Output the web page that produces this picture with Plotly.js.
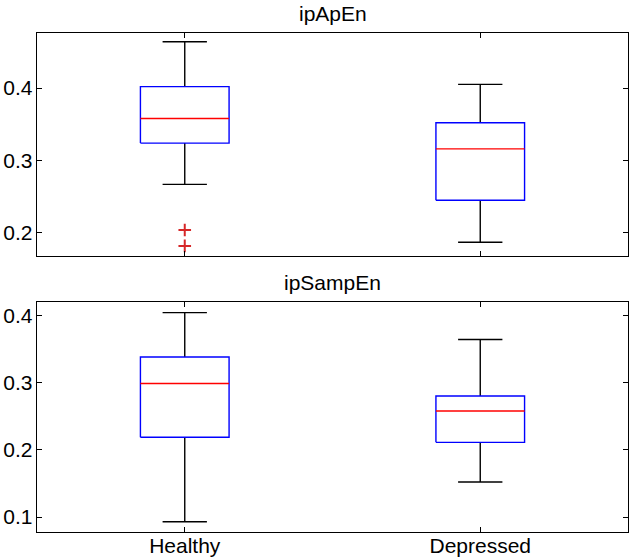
<!DOCTYPE html>
<html>
<head>
<meta charset="utf-8">
<script src="https://cdn.plot.ly/plotly-3.0.1.min.js"></script>
<style>html,body{margin:0;padding:0;background:#fff;}#chart{width:630px;height:559px;}</style>
</head>
<body>
<div id="chart"></div>
<script>
// ---- data ----
const groups = ['Healthy', 'Depressed'];
const panelTitles = ['ipApEn', 'ipSampEn'];

// ipApEn
const apenLower  = [0.267, 0.187];
const apenQ1     = [0.324, 0.245];
const apenMedian = [0.358, 0.316];
const apenQ3     = [0.402, 0.352];
const apenUpper  = [0.464, 0.405];
const apenOutliers = [[0.204, 0.182], []];

// ipSampEn
const sampLower  = [0.093, 0.152];
const sampQ1     = [0.2185, 0.211];
const sampMedian = [0.2985, 0.2577];
const sampQ3     = [0.338, 0.280];
const sampUpper  = [0.404, 0.364];
const sampOutliers = [[], []];

const apenTicks = [0.2, 0.3, 0.4];
const sampTicks = [0.1, 0.2, 0.3, 0.4];

// ---- style ----
const boxHalf = 0.15, capHalf = 0.075;
const FONT = {family: 'Liberation Sans, Arial, Helvetica, sans-serif', size: 21, color: '#000'};

function boxTraces(lower, q1, med, q3, upper, outliers, xa, ya) {
  const pos = groups.map((g, i) => i + 1);
  const bx = [], by = [], mx = [], my = [], wx = [], wy = [], ox = [], oy = [];
  pos.forEach((p, i) => {
    bx.push(p - boxHalf, p + boxHalf, p + boxHalf, p - boxHalf, p - boxHalf, null);
    by.push(q1[i], q1[i], q3[i], q3[i], q1[i], null);
    mx.push(p - boxHalf, p + boxHalf, null);
    my.push(med[i], med[i], null);
    wx.push(p, p, null, p, p, null, p - capHalf, p + capHalf, null, p - capHalf, p + capHalf, null);
    wy.push(q3[i], upper[i], null, q1[i], lower[i], null, upper[i], upper[i], null, lower[i], lower[i], null);
    outliers[i].forEach(v => { ox.push(p); oy.push(v); });
  });
  const common = {type: 'scatter', xaxis: xa, yaxis: ya, hoverinfo: 'skip', showlegend: false};
  return [
    Object.assign({}, common, {mode: 'lines', x: wx, y: wy, line: {color: '#000', width: 1.4}}),
    Object.assign({}, common, {mode: 'lines', x: bx, y: by, line: {color: '#0000ff', width: 1.4}}),
    Object.assign({}, common, {mode: 'lines', x: mx, y: my, line: {color: '#ff0000', width: 1.4}}),
    Object.assign({}, common, {mode: 'markers', x: ox, y: oy,
      marker: {symbol: 'cross-thin-open', size: 9, line: {color: '#ff0000', width: 2}}})
  ];
}

const data = [].concat(
  boxTraces(apenLower, apenQ1, apenMedian, apenQ3, apenUpper, apenOutliers, 'x', 'y'),
  boxTraces(sampLower, sampQ1, sampMedian, sampQ3, sampUpper, sampOutliers, 'x2', 'y2')
);

const axisCommon = {
  showline: true, linecolor: '#000', linewidth: 1.3, mirror: 'ticks',
  ticks: 'inside', ticklen: 5, tickwidth: 1, tickcolor: '#000',
  showgrid: false, zeroline: false, tickfont: FONT, fixedrange: true
};
const tickvals = groups.map((g, i) => i + 1);

const layout = {
  width: 630, height: 559,
  margin: {l: 37, r: 2, t: 33, b: 27},
  paper_bgcolor: '#fff', plot_bgcolor: '#fff',
  font: FONT,
  showlegend: false,
  xaxis: Object.assign({}, axisCommon, {domain: [0, 1], range: [0.5, 2.5], tickvals: tickvals, ticktext: groups, showticklabels: false, anchor: 'y'}),
  yaxis: Object.assign({}, axisCommon, {domain: [0.553, 1], range: [0.168, 0.476], tickvals: apenTicks, ticktext: apenTicks.map(v => v.toFixed(1)), anchor: 'x', ticklabelstandoff: -1}),
  xaxis2: Object.assign({}, axisCommon, {domain: [0, 1], range: [0.5, 2.5], tickvals: tickvals, ticktext: groups, anchor: 'y2', ticklabelstandoff: -6}),
  yaxis2: Object.assign({}, axisCommon, {domain: [0, 0.461], range: [0.0777, 0.4198], tickvals: sampTicks, ticktext: sampTicks.map(v => v.toFixed(1)), anchor: 'x2', ticklabelstandoff: -1}),
  annotations: [
    {text: panelTitles[0], xref: 'paper', yref: 'paper', x: 0.5, y: 1, xanchor: 'center', yanchor: 'bottom', yshift: 6, showarrow: false, font: FONT},
    {text: panelTitles[1], xref: 'paper', yref: 'paper', x: 0.5, y: 0.461, xanchor: 'center', yanchor: 'bottom', yshift: 6, showarrow: false, font: FONT}
  ]
};

Plotly.newPlot('chart', data, layout, {staticPlot: true, displayModeBar: false});
</script>
</body>
</html>
